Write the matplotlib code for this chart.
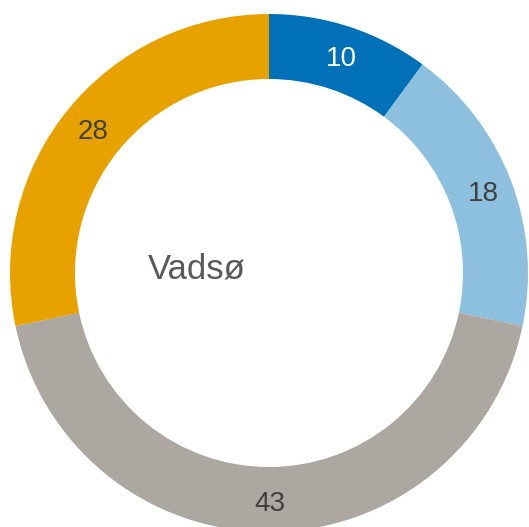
import matplotlib
matplotlib.use("Agg")
import matplotlib.pyplot as plt

values = [10, 18, 43, 28]
labels = ["10", "18", "43", "28"]
colors = ["#0070b8", "#8cc0de", "#aca7a0", "#e8a200"]
label_colors = ["white", "#404040", "#404040", "#404040"]
center_title = "Vadsø"

W, H = 529, 527
fig = plt.figure(figsize=(W / 100, H / 100), dpi=100)
ax = fig.add_axes([0, 0, 1, 1])

cx, cy = 269, H - 273
r_out = 259
ring = 65

wedges, texts = ax.pie(
    values,
    colors=colors,
    startangle=90,
    counterclock=False,
    radius=r_out,
    center=(cx, cy),
    labels=labels,
    labeldistance=(r_out - ring / 2 + 2) / r_out,
    wedgeprops=dict(width=ring, edgecolor="none"),
    textprops=dict(fontsize=20, family=["Liberation Sans", "DejaVu Sans"]),
    frame=True,
)
for t, c in zip(texts, label_colors):
    t.set_color(c)
    t.set_ha("center")
    t.set_va("center")
    x, y = t.get_position()
    t.set_position((x + 1, y - 3))

ax.set_xlim(0, W)
ax.set_ylim(0, H)
ax.set_aspect("equal")
ax.axis("off")

ax.text(197, H - 269, center_title, ha="center", va="center", fontsize=25,
        color="#595959", family=["Liberation Sans", "DejaVu Sans"])

fig.savefig("out.png", dpi=100)
